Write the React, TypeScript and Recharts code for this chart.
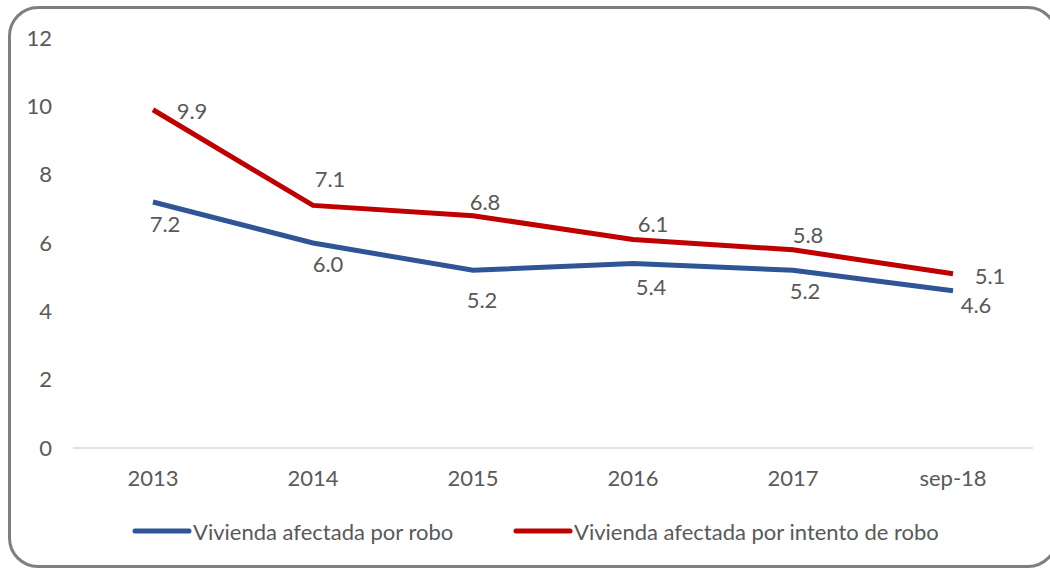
import React from 'react';
import { LineChart, Line, XAxis, YAxis } from 'recharts';

const categories = ['2013', '2014', '2015', '2016', '2017', 'sep-18'];
const robo = [7.2, 6.0, 5.2, 5.4, 5.2, 4.6];
const intentoRobo = [9.9, 7.1, 6.8, 6.1, 5.8, 5.1];
const yTicks = [0, 2, 4, 6, 8, 10, 12];

const BLUE = '#2F5597';
const RED = '#C00000';
const TEXT = '#595959';
const FONT = 'Lato, "Open Sans", sans-serif';
const FS = 22;

// label offsets (text centre relative to the point), as placed in the original
const blueLabelOffset = [[12, 21], [15, 20], [9, 29], [18, 23], [12, 20], [23, 14]];
const redLabelOffset = [[39, 1], [17, -27], [12, -14], [20, -16], [15, -15], [37, 2]];

const data = categories.map((c, i) => ({
  name: c,
  robo: robo[i],
  intento: intentoRobo[i],
}));

const makeLabel = (offsets: number[][]) => (props: any) => {
  const { x, y, value, index } = props;
  const [dx, dy] = offsets[index] || [0, 0];
  return (
    <text
      x={x + dx}
      y={y + dy}
      textAnchor="middle"
      dominantBaseline="central"
      fill={TEXT}
      fontSize={FS}
      fontFamily={FONT}
    >
      {Number(value).toFixed(1)}
    </text>
  );
};

function ChartLegend() {
  const items = [
    { label: 'Vivienda afectada por robo', color: BLUE, left: 132 },
    { label: 'Vivienda afectada por intento de robo', color: RED, left: 513 },
  ];
  return (
    <>
      {items.map((it) => (
        <div
          key={it.label}
          style={{
            position: 'absolute',
            left: it.left,
            top: 516,
            height: 30,
            display: 'flex',
            alignItems: 'center',
            fontFamily: FONT,
            fontSize: FS,
            color: TEXT,
            whiteSpace: 'nowrap',
          }}
        >
          <svg width={60} height={10} style={{ marginRight: 1 }}>
            <line x1={3} y1={5} x2={57} y2={5} stroke={it.color} strokeWidth={5} strokeLinecap="round" />
          </svg>
          <span>{it.label}</span>
        </div>
      ))}
    </>
  );
}

export default function App() {
  return (
    <div style={{ position: 'absolute', left: 0, top: 0, width: 1050, height: 568, overflow: 'hidden', background: '#fff' }}>
      <div
        style={{
          position: 'absolute',
          left: 8,
          top: 6,
          width: 1050,
          height: 562,
          border: '3px solid #7f7f7f',
          borderRadius: 30,
          boxSizing: 'border-box',
        }}
      />
      <LineChart
        width={1050}
        height={568}
        data={data}
        margin={{ top: 38, right: 17, left: 0, bottom: 70 }}
        style={{ position: 'absolute', left: 0, top: 0 }}
      >
        <XAxis
          dataKey="name"
          axisLine={{ stroke: '#d9d9d9', strokeWidth: 1.5 }}
          tickLine={false}
          tickSize={0}
          tickMargin={22}
          height={50}
          padding={{ left: 80, right: 80 }}
          tick={{ fill: TEXT, fontSize: FS, fontFamily: FONT }}
          interval={0}
        />
        <YAxis
          domain={[0, 12]}
          ticks={yTicks}
          axisLine={false}
          tickLine={false}
          tickSize={0}
          tickMargin={21}
          width={73}
          tick={{ fill: TEXT, fontSize: FS, fontFamily: FONT }}
        />
        <Line
          type="linear"
          dataKey="robo"
          name="Vivienda afectada por robo"
          stroke={BLUE}
          strokeWidth={5}
          dot={false}
          activeDot={false}
          isAnimationActive={false}
          label={makeLabel(blueLabelOffset)}
        />
        <Line
          type="linear"
          dataKey="intento"
          name="Vivienda afectada por intento de robo"
          stroke={RED}
          strokeWidth={5}
          dot={false}
          activeDot={false}
          isAnimationActive={false}
          label={makeLabel(redLabelOffset)}
        />
      </LineChart>
      <ChartLegend />
    </div>
  );
}
